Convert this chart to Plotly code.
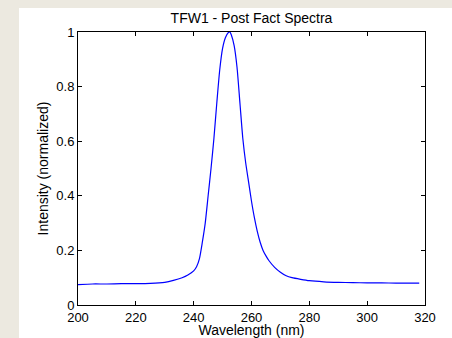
import plotly.graph_objects as go

# Data
wavelength = [200, 205, 210, 215, 220, 225, 230, 233, 236, 238, 240, 241, 242, 243, 244,
              245, 246, 247, 248, 249, 250, 251, 252, 252.5, 253, 254, 255, 256, 257, 258,
              259, 260, 261, 262, 263, 264, 265, 266, 268, 270, 272, 274, 277, 280, 285,
              290, 295, 300, 305, 310, 315, 318]
intensity = [0.075, 0.077, 0.077, 0.078, 0.078, 0.079, 0.083, 0.090, 0.100, 0.110, 0.125,
             0.140, 0.170, 0.230, 0.300, 0.400, 0.500, 0.610, 0.740, 0.860, 0.940, 0.980,
             0.998, 1.0, 0.990, 0.950, 0.870, 0.740, 0.610, 0.520, 0.450, 0.380, 0.320,
             0.270, 0.230, 0.200, 0.180, 0.163, 0.138, 0.120, 0.107, 0.100, 0.094, 0.089,
             0.085, 0.083, 0.082, 0.081, 0.081, 0.080, 0.080, 0.080]

x_ticks = [200, 220, 240, 260, 280, 300, 320]
y_ticks = [0, 0.2, 0.4, 0.6, 0.8, 1]

title_text = "TFW1 - Post Fact Spectra"
x_title = "Wavelength (nm)"
y_title = "Intensity (normalized)"

W, H = 452, 338
L, R, T, B = 78, 27, 32, 33
pw, ph = W - L - R, H - T - B

FONT = "Liberation Sans, Arial, sans-serif"

fig = go.Figure()
fig.add_trace(go.Scatter(x=wavelength, y=intensity, mode="lines", line_shape="spline",
                         line=dict(color="#0000FF", width=1.2, smoothing=0.6),
                         showlegend=False))

# white figure area over the beige window background
fig.add_shape(type="rect", xref="paper", yref="paper", layer="below",
              x0=(19 - L) / pw, x1=(W - L + 5) / pw,
              y0=-(H - T - ph + 5) / ph, y1=(ph + T - 8) / ph,
              fillcolor="white", line=dict(width=0))

axis_common = dict(showgrid=False, zeroline=False, showline=True, linecolor="black",
                   linewidth=1, mirror="allticks", ticks="inside", ticklen=4,
                   tickcolor="black", tickfont=dict(family=FONT, size=13, color="black"))

fig.update_xaxes(range=[200, 320], tickvals=x_ticks, ticktext=[str(v) for v in x_ticks],
                 title=dict(text=x_title, font=dict(family=FONT, size=14, color="black"),
                            standoff=4),
                 **axis_common)
fig.update_yaxes(range=[0, 1], tickvals=y_ticks, ticktext=["0", "0.2", "0.4", "0.6", "0.8", "1"],
                 title=dict(text=y_title, font=dict(family=FONT, size=14, color="black"),
                            standoff=4),
                 **axis_common)

fig.update_layout(
    width=W, height=H,
    margin=dict(l=L, r=R, t=T, b=B, autoexpand=False),
    paper_bgcolor="#ECE9E0",
    plot_bgcolor="white",
    title=dict(text=title_text, x=(L + pw / 2) / W, xanchor="center",
               y=1 - 18 / H, yanchor="middle",
               font=dict(family=FONT, size=14, color="black")),
)

fig.write_html("out.html")
